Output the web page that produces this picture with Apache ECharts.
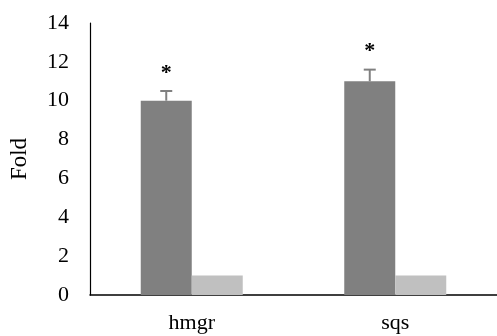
<!DOCTYPE html>
<html>
<head>
<meta charset="utf-8">
<script src="https://cdn.jsdelivr.net/npm/echarts@6/dist/echarts.min.js"></script>
<style>
  html, body { margin: 0; padding: 0; background: #fff; }
  #chart { width: 497px; height: 336px; }
</style>
</head>
<body>
<div id="chart"></div>
<script>
// categories and values
var genes = ['hmgr', 'sqs'];
var treated = [10, 11];      // dark bars
var treatedErr = [0.5, 0.6]; // upper error
var control = [1, 1];        // light bars
var marks = ['*', '*'];
var yTicks = [0, 2, 4, 6, 8, 10, 12, 14];

var font = '"Liberation Serif", "DejaVu Serif", serif';

var chart = echarts.init(document.getElementById('chart'));

var option = {
    animation: false,
    textStyle: { fontFamily: font },
    grid: {
        left: 88,
        right: -2,
        top: 23,
        bottom: 41
    },
    xAxis: {
        type: 'category',
        data: genes,
        axisLine: { lineStyle: { color: '#000', width: 1.5 } },
        axisTick: { show: false },
        axisLabel: { color: '#000', fontSize: 22, fontFamily: font, margin: 17 }
    },
    yAxis: {
        type: 'value',
        min: yTicks[0],
        max: yTicks[yTicks.length - 1],
        interval: 2,
        name: 'Fold',
        nameLocation: 'middle',
        nameGap: 59,
        nameRotate: 90,
        nameTextStyle: { color: '#000', fontSize: 23, fontFamily: font },
        axisLine: { show: true, lineStyle: { color: '#000', width: 1.2 } },
        axisTick: { show: false },
        splitLine: { show: false },
        axisLabel: { color: '#000', fontSize: 22, fontFamily: font, margin: 21 }
    },
    series: [
        {
            name: 'treated',
            type: 'bar',
            data: treated,
            barWidth: 51,
            barGap: '0%',
            itemStyle: { color: '#808080' }
        },
        {
            name: 'control',
            type: 'bar',
            data: control,
            barWidth: 51,
            itemStyle: { color: '#c0c0c0' }
        },
        {
            // error bars + significance marks on the dark bars
            type: 'custom',
            data: treated.map(function (v, i) { return [i, v, v + treatedErr[i], marks[i]]; }),
            z: 10,
            renderItem: function (params, api) {
                var top = api.coord([api.value(0), api.value(2)]);
                var base = api.coord([api.value(0), api.value(1)]);
                // dark bar sits left of category centre
                var x = top[0] - 25.5;
                var cap = 6;
                return {
                    type: 'group',
                    children: [
                        { type: 'line', shape: { x1: x, y1: base[1], x2: x, y2: top[1] },
                          style: { stroke: '#808080', lineWidth: 2 } },
                        { type: 'line', shape: { x1: x - cap, y1: top[1], x2: x + cap, y2: top[1] },
                          style: { stroke: '#808080', lineWidth: 2 } },
                        { type: 'text', x: x, y: top[1] - 18,
                          style: { text: api.value(3), fill: '#000', font: 'bold 22px ' + font,
                                   align: 'center', verticalAlign: 'middle' } }
                    ]
                };
            }
        }
    ]
};

chart.setOption(option);
</script>
</body>
</html>
